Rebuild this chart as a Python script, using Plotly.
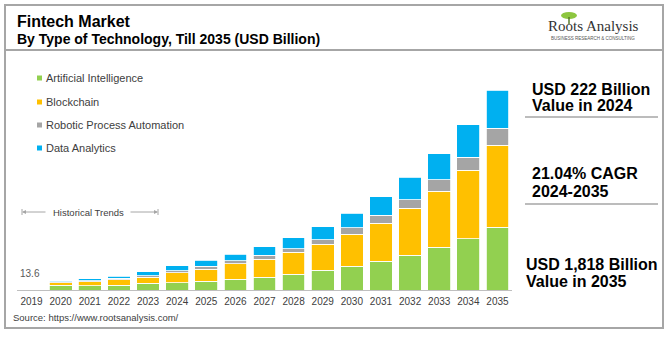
import plotly.graph_objects as go

# ---- data (USD billion) ----
years = [str(y) for y in range(2019, 2036)]
artificial_intelligence = [5.5, 43, 37, 43, 60, 67, 80, 99, 115, 144, 180, 214, 262, 316, 387, 468, 570]
blockchain = [3.5, 21, 39, 48, 58, 90, 110, 141, 164, 197, 236, 292, 346, 428, 511, 619, 748]
robotic_process_automation = [2.0, 12, 9, 15, 12, 20, 27, 28, 36, 36, 42, 62, 73, 76, 106, 120, 152]
data_analytics = [2.6, 9, 18, 21, 37, 45, 52, 57, 79, 100, 119, 131, 165, 204, 235, 293, 348]
cagr_text = "21.04% CAGR"

series = [
    ("Artificial Intelligence", artificial_intelligence, "#92D050"),
    ("Blockchain", blockchain, "#FFC000"),
    ("Robotic Process Automation", robotic_process_automation, "#A5A5A5"),
    ("Data Analytics", data_analytics, "#00B0F0"),
]

totals = [round(sum(v), 1) for v in zip(*[s[1] for s in series])]
tot = dict(zip(years, totals))

W, H = 670, 337


def px(x):
    return x / W


def py(y):
    return 1 - y / H


FONT = "Liberation Sans, Arial, sans-serif"

fig = go.Figure()
for name, vals, color in series:
    fig.add_trace(go.Bar(
        x=years, y=vals, name=name,
        marker=dict(color=color, line=dict(color="white", width=0.8)),
        showlegend=False,
    ))

# plot area: baseline at 290px, largest bar reaching about 90px
ymax = max(totals) * (290 - 60) / (290 - 90)

shapes = []
annotations = []

# outer frame and header divider
shapes.append(dict(type="rect", xref="paper", yref="paper",
                   x0=px(5), x1=px(663), y0=py(328), y1=py(5),
                   line=dict(color="#A6A6A6", width=2)))
shapes.append(dict(type="line", xref="paper", yref="paper",
                   x0=px(5), x1=px(663), y0=py(50), y1=py(50),
                   line=dict(color="#A6A6A6", width=2)))

# title
annotations.append(dict(text="<b>Fintech Market</b>", x=px(15), y=py(21), xref="paper", yref="paper",
                        xanchor="left", yanchor="middle", showarrow=False,
                        font=dict(family=FONT, size=16, color="#000000")))
annotations.append(dict(text="<b>By Type of Technology, Till 2035 (USD Billion)</b>", x=px(15), y=py(39),
                        xref="paper", yref="paper", xanchor="left", yanchor="middle", showarrow=False,
                        font=dict(family=FONT, size=14, color="#000000")))

# logo
shapes.append(dict(type="circle", xref="paper", yref="paper",
                   x0=px(561), x1=px(577), y0=py(19), y1=py(12),
                   fillcolor="#8DC63F", line=dict(width=0)))
shapes.append(dict(type="line", xref="paper", yref="paper",
                   x0=px(569), x1=px(569), y0=py(24), y1=py(17),
                   line=dict(color="#5A7D2A", width=1.5)))
annotations.append(dict(text="Roots Analysis", x=px(593), y=py(26), xref="paper", yref="paper",
                        xanchor="center", yanchor="middle", showarrow=False,
                        font=dict(family="Liberation Serif, DejaVu Serif, serif", size=15, color="#333333")))
annotations.append(dict(text="BUSINESS RESEARCH & CONSULTING", x=px(593), y=py(38.5), xref="paper", yref="paper",
                        xanchor="center", yanchor="middle", showarrow=False,
                        font=dict(family=FONT, size=4.5, color="#555555")))

# legend
legend_y = [78, 102, 125, 148]
for (name, vals, color), ly in zip(series, legend_y):
    shapes.append(dict(type="rect", xref="paper", yref="paper",
                       x0=px(37), x1=px(42), y0=py(ly + 2.5), y1=py(ly - 2.5),
                       fillcolor=color, line=dict(width=0)))
    annotations.append(dict(text=name, x=px(44), y=py(ly), xref="paper", yref="paper",
                            xanchor="left", yanchor="middle", showarrow=False,
                            font=dict(family=FONT, size=11, color="#404040")))

# historical trends bracket
hy = 212
annotations.append(dict(text="Historical Trends", x=px(88), y=py(hy), xref="paper", yref="paper",
                        xanchor="center", yanchor="middle", showarrow=False,
                        font=dict(family=FONT, size=9.5, color="#404040")))
annotations.append(dict(text="", x=px(22), y=py(hy), xref="paper", yref="paper",
                        ax=25, ay=0, showarrow=True, arrowhead=2, arrowsize=0.8,
                        arrowwidth=1, arrowcolor="#A6A6A6"))
annotations.append(dict(text="", x=px(158), y=py(hy), xref="paper", yref="paper",
                        ax=-29, ay=0, showarrow=True, arrowhead=2, arrowsize=0.8,
                        arrowwidth=1, arrowcolor="#A6A6A6"))
for xx in (22, 158):
    shapes.append(dict(type="line", xref="paper", yref="paper",
                       x0=px(xx), x1=px(xx), y0=py(hy + 3), y1=py(hy - 3),
                       line=dict(color="#A6A6A6", width=1)))

# value label on the first bar (category index 0)
annotations.append(dict(text=f"{tot['2019']:g}", x=0, y=tot["2019"], xref="x", yref="y",
                        xanchor="center", yanchor="bottom", yshift=8, xshift=-2, showarrow=False,
                        font=dict(family=FONT, size=10, color="#595959")))

# key figures panel
panel = [
    (f"USD {tot['2024']:,.0f} Billion", 89, 530),
    ("Value in 2024", 105.5, 530),
    (cagr_text, 174, 530),
    ("2024-2035", 191, 530),
    (f"USD {tot['2035']:,.0f} Billion", 264, 524),
    ("Value in 2035", 281, 524),
]
for text, yy, xx in panel:
    annotations.append(dict(text=f"<b>{text}</b>", x=px(xx), y=py(yy), xref="paper", yref="paper",
                            xanchor="left", yanchor="middle", showarrow=False,
                            font=dict(family=FONT, size=16, color="#000000")))
for yy in (117, 204):
    shapes.append(dict(type="line", xref="paper", yref="paper",
                       x0=px(525), x1=px(658), y0=py(yy), y1=py(yy),
                       line=dict(color="#A6A6A6", width=1.5)))

# source
annotations.append(dict(text="Source: https://www.rootsanalysis.com/", x=px(11), y=py(317),
                        xref="paper", yref="paper", xanchor="left", yanchor="middle", showarrow=False,
                        font=dict(family=FONT, size=9.5, color="#404040")))

fig.update_layout(
    width=W, height=H,
    margin=dict(l=0, r=0, t=0, b=0),
    paper_bgcolor="white", plot_bgcolor="white",
    barmode="stack", bargap=0.22,
    xaxis=dict(domain=[px(17), px(512)], type="category", range=[-0.5, len(years) - 0.5],
               showline=True, linecolor="#BFBFBF", linewidth=1, ticks="", showgrid=False,
               ticklabelstandoff=2,
               tickfont=dict(family=FONT, size=10, color="#404040")),
    yaxis=dict(domain=[py(290), py(60)], range=[0, ymax], visible=False, showgrid=False, zeroline=False),
    shapes=shapes,
    annotations=annotations,
)

fig.write_html("out.html")
